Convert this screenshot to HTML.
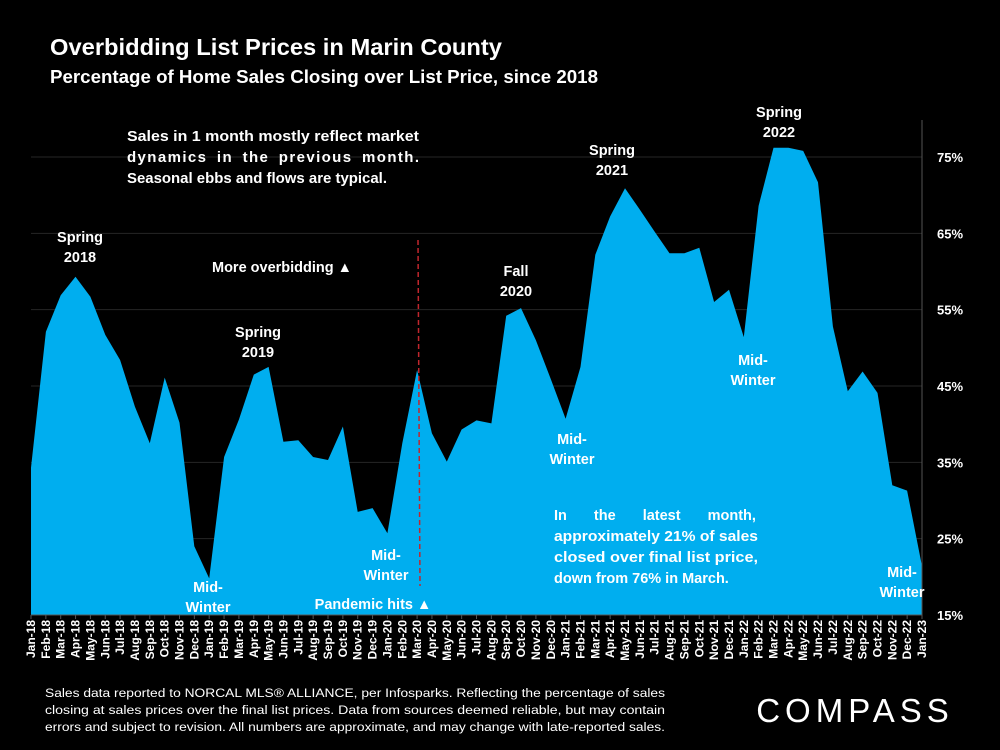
<!DOCTYPE html>
<html><head><meta charset="utf-8"><style>
body{margin:0;background:#000;width:1000px;height:750px;overflow:hidden;font-family:"Liberation Sans",sans-serif;color:#fff}
svg{position:absolute;left:0;top:0}
</style></head><body>
<svg width="1000" height="750">
<text x="50" y="55" font-size="23" font-weight="bold" fill="#fff" textLength="452" lengthAdjust="spacingAndGlyphs">Overbidding List Prices in Marin County</text>
<text x="50" y="83" font-size="18" font-weight="bold" fill="#fff" textLength="548" lengthAdjust="spacingAndGlyphs">Percentage of Home Sales Closing over List Price, since 2018</text>
<g id="grid"></g>
<g id="area"></g>
<g id="axes"></g>
<g id="ann" font-weight="bold" font-size="14.5" fill="#fff" text-anchor="middle">
<text text-anchor="start" font-size="15"><tspan x="127" y="141" textLength="292" lengthAdjust="spacingAndGlyphs">Sales in 1 month mostly reflect market</tspan><tspan x="127" y="162" textLength="292" lengthAdjust="spacing" word-spacing="4">dynamics in the previous month.</tspan><tspan x="127" y="183" textLength="260" lengthAdjust="spacingAndGlyphs">Seasonal ebbs and flows are typical.</tspan></text>
<text x="80" y="242"><tspan x="80">Spring</tspan><tspan x="80" dy="20">2018</tspan></text>
<text x="282" y="272">More overbidding ▲</text>
<text x="258" y="337"><tspan x="258">Spring</tspan><tspan x="258" dy="20">2019</tspan></text>
<text x="516" y="276"><tspan x="516">Fall</tspan><tspan x="516" dy="20">2020</tspan></text>
<text x="612" y="155"><tspan x="612">Spring</tspan><tspan x="612" dy="20">2021</tspan></text>
<text x="779" y="117"><tspan x="779">Spring</tspan><tspan x="779" dy="20">2022</tspan></text>
<text x="208" y="592"><tspan x="208">Mid-</tspan><tspan x="208" dy="20">Winter</tspan></text>
<text x="386" y="560"><tspan x="386">Mid-</tspan><tspan x="386" dy="20">Winter</tspan></text>
<text x="572" y="444"><tspan x="572">Mid-</tspan><tspan x="572" dy="20">Winter</tspan></text>
<text x="753" y="365"><tspan x="753">Mid-</tspan><tspan x="753" dy="20">Winter</tspan></text>
<text x="902" y="577"><tspan x="902">Mid-</tspan><tspan x="902" dy="20">Winter</tspan></text>
<text x="373" y="609">Pandemic hits ▲</text>
<text text-anchor="start"><tspan x="554" y="520" word-spacing="23">In the latest month,</tspan><tspan x="554" y="541" textLength="204" lengthAdjust="spacingAndGlyphs">approximately 21% of sales</tspan><tspan x="554" y="562" textLength="204" lengthAdjust="spacingAndGlyphs">closed over final list price,</tspan><tspan x="554" y="583">down from 76% in March.</tspan></text>
</g>
<text font-size="12.3" fill="#fff"><tspan x="45" y="697" textLength="620" lengthAdjust="spacingAndGlyphs">Sales data reported to NORCAL MLS® ALLIANCE, per Infosparks. Reflecting the percentage of sales</tspan><tspan x="45" y="714" textLength="620" lengthAdjust="spacingAndGlyphs">closing at sales prices over the final list prices. Data from sources deemed reliable, but may contain</tspan><tspan x="45" y="731" textLength="620" lengthAdjust="spacingAndGlyphs">errors and subject to revision. All numbers are approximate, and may change with late-reported sales.</tspan></text>
<text x="855" y="722" font-size="33" fill="#fff" text-anchor="middle" letter-spacing="5">COMPASS</text>
</svg>
<script>
const months=["Jan-18","Feb-18","Mar-18","Apr-18","May-18","Jun-18","Jul-18","Aug-18","Sep-18","Oct-18","Nov-18","Dec-18","Jan-19","Feb-19","Mar-19","Apr-19","May-19","Jun-19","Jul-19","Aug-19","Sep-19","Oct-19","Nov-19","Dec-19","Jan-20","Feb-20","Mar-20","Apr-20","May-20","Jun-20","Jul-20","Aug-20","Sep-20","Oct-20","Nov-20","Dec-20","Jan-21","Feb-21","Mar-21","Apr-21","May-21","Jun-21","Jul-21","Aug-21","Sep-21","Oct-21","Nov-21","Dec-21","Jan-22","Feb-22","Mar-22","Apr-22","May-22","Jun-22","Jul-22","Aug-22","Sep-22","Oct-22","Nov-22","Dec-22","Jan-23"];
const values=[34.3,52.1,56.9,59.3,56.7,51.7,48.4,42.3,37.5,46.1,40.2,24,19.8,35.7,40.6,46.5,47.5,37.7,37.9,35.7,35.3,39.7,28.5,29,25.7,37.5,47.1,38.8,35.1,39.3,40.5,40.1,54.2,55.2,51,45.9,40.7,47.5,62.2,67.2,70.9,68.1,65.2,62.4,62.4,63.1,56,57.6,51.4,68.6,76.2,76.2,75.8,71.7,52.8,44.3,46.9,44.1,32,31.3,21.4];
const yTicks=[15,25,35,45,55,65,75];
const L=31,R=922,T=120,B=615;
const x=i=>L+i*(R-L)/(months.length-1);
const y=v=>B-(v-15)*(B-157)/60;
const NS="http://www.w3.org/2000/svg";
function mk(t,a,p){const e=document.createElementNS(NS,t);for(const k in a)e.setAttribute(k,a[k]);p.appendChild(e);return e;}
const grid=document.getElementById('grid'),area=document.getElementById('area'),axes=document.getElementById('axes');
yTicks.forEach(t=>{
  if(t>15){const g=mk('line',{x1:L,x2:R,y1:y(t),y2:y(t),stroke:'#262626','stroke-width':1},grid);
  
  }
  const tx=mk('text',{x:937,y:y(t)+5,'font-size':13,'font-weight':'bold',fill:'#fff'},axes);
  tx.textContent=t+'%';
  
  
});
let d='M'+x(0)+','+B;
values.forEach((v,i)=>{d+=' L'+x(i).toFixed(1)+','+y(v).toFixed(1);});
d+=' L'+x(values.length-1)+','+B+' Z';
const p=mk('path',{d:d,fill:'#00aeef'},area);


const dl=mk('line',{x1:418,x2:420,y1:240,y2:586,stroke:'#c0262d','stroke-width':1.5,'stroke-dasharray':'5,3'},area);


const ya=mk('line',{x1:R,x2:R,y1:T,y2:B+4,stroke:'#555'},axes);


const xa=mk('line',{x1:L,x2:R,y1:B,y2:B,stroke:'#555'},axes);


months.forEach((m,i)=>{
  const tk=mk('line',{x1:x(i),x2:x(i),y1:B,y2:B+4,stroke:'#555'},axes);
  
  
  const t=mk('text',{x:0,y:0,'font-size':12,'font-weight':'bold',fill:'#fff','text-anchor':'end',transform:`translate(${x(i)+4},${B+5}) rotate(-90)`},axes);
  t.textContent=m;
  
  
});
</script>
</body></html>
